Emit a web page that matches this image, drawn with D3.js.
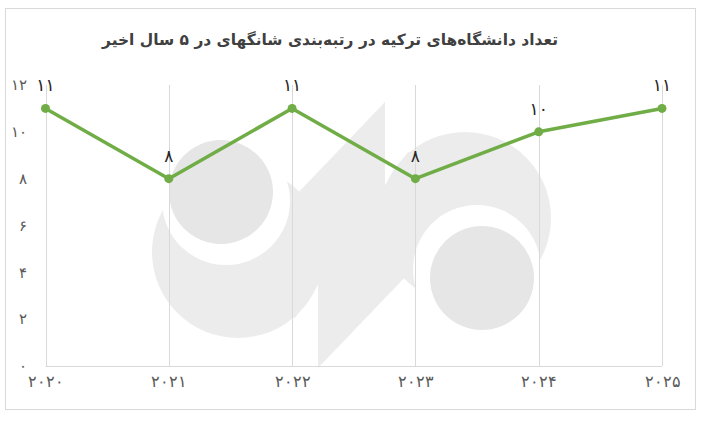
<!DOCTYPE html>
<html>
<head>
<meta charset="utf-8">
<script src="https://cdn.jsdelivr.net/npm/d3@7"></script>
<style>
  html, body { margin: 0; padding: 0; background: #fff; }
  svg { display: block; font-family: "DejaVu Sans", "Noto Sans", sans-serif; }
</style>
</head>
<body>
<svg id="chart" width="707" height="421"></svg>
<script>
// ---- data ----
const years = ["2020", "2021", "2022", "2023", "2024", "2025"];
const yearLabels = ["۲۰۲۰", "۲۰۲۱", "۲۰۲۲", "۲۰۲۳", "۲۰۲۴", "۲۰۲۵"];
const values = [11, 8, 11, 8, 10, 11];
const valueLabels = ["۱۱", "۸", "۱۱", "۸", "۱۰", "۱۱"];
const yTicks = [0, 2, 4, 6, 8, 10, 12];
const yTickLabels = ["۰", "۲", "۴", "۶", "۸", "۱۰", "۱۲"];
const title = "تعداد دانشگاه‌های ترکیه در رتبه‌بندی شانگهای در ۵ سال اخیر";

const svg = d3.select("#chart");

// border
svg.append("rect").attr("x", 5.5).attr("y", 8.5).attr("width", 690).attr("height", 401)
  .attr("fill", "#fff").attr("stroke", "#d9d9d9");

// watermark (approximate logo)
const wm = svg.append("g");
function half(g, t) {
  const tr = t ? (p => [703 - p[0], 470 - p[1]]) : (p => p);
  const c = (cx, cy, r, fill) => { const p = tr([cx, cy]); g.append("circle").attr("cx", p[0]).attr("cy", p[1]).attr("r", r).attr("fill", fill); };
  c(238, 252, 86, "#ececec");
  g.append("polygon").attr("points", [[385,102],[385,187],[295,318],[205,290]].map(tr).map(p => p.join(",")).join(" ")).attr("fill", "#ececec");
  c(226, 201, 64, "#ffffff");
  c(221, 192, 52, "#e6e6e6");
}
half(wm, false);
half(wm, true);

// scales
const x = d3.scalePoint().domain(years).range([45.5, 662]);
const y = d3.scaleLinear().domain([0, 12]).range([366, 85]);

// vertical gridlines
svg.append("g").selectAll("line").data(years).join("line")
  .attr("x1", d => Math.round(x(d)) + 0.5).attr("x2", d => Math.round(x(d)) + 0.5)
  .attr("y1", y(12)).attr("y2", y(0))
  .attr("stroke", "#d9d9d9").attr("stroke-width", 1);

// baseline
svg.append("line").attr("x1", x(years[0])).attr("x2", x(years[years.length - 1]))
  .attr("y1", Math.round(y(0)) + 0.5).attr("y2", Math.round(y(0)) + 0.5)
  .attr("stroke", "#d9d9d9");

// axes
const xAxis = svg.append("g").attr("transform", `translate(0,${y(0)})`)
  .call(d3.axisBottom(x).tickSize(0).tickPadding(10).tickFormat((d, i) => yearLabels[i]));
xAxis.select(".domain").remove();
xAxis.selectAll("text").attr("fill", "#595959").style("font-size", "16px");

const yAxis = svg.append("g").attr("transform", `translate(45,0)`)
  .call(d3.axisLeft(y).tickValues(yTicks).tickSize(0).tickPadding(18).tickFormat((d, i) => yTickLabels[i]));
yAxis.select(".domain").remove();
yAxis.selectAll("text").attr("fill", "#595959").style("font-size", "15px");

// line
const pts = years.map((d, i) => ({ year: d, v: values[i], label: valueLabels[i] }));
svg.append("path").datum(pts)
  .attr("d", d3.line().x(d => x(d.year)).y(d => y(d.v)))
  .attr("fill", "none").attr("stroke", "#70ad47").attr("stroke-width", 3.5)
  .attr("stroke-linejoin", "round");

svg.append("g").selectAll("circle").data(pts).join("circle")
  .attr("cx", d => x(d.year)).attr("cy", d => y(d.v)).attr("r", 4.5)
  .attr("fill", "#70ad47");

svg.append("g").selectAll("text").data(pts).join("text")
  .attr("x", d => x(d.year)).attr("y", d => y(d.v) - 17)
  .attr("text-anchor", "middle")
  .attr("fill", "#262626").style("font-size", "17px")
  .text(d => d.label);

// title
const t = svg.append("text").attr("x", 330).attr("y", 45)
  .attr("text-anchor", "middle").attr("direction", "rtl")
  .attr("fill", "#404040").style("font-size", "19px").style("font-weight", "bold")
  .text(title);
const w = t.node().getComputedTextLength();
if (w > 0) t.style("font-size", (19 * 456 / w).toFixed(2) + "px");
</script>
</body>
</html>
